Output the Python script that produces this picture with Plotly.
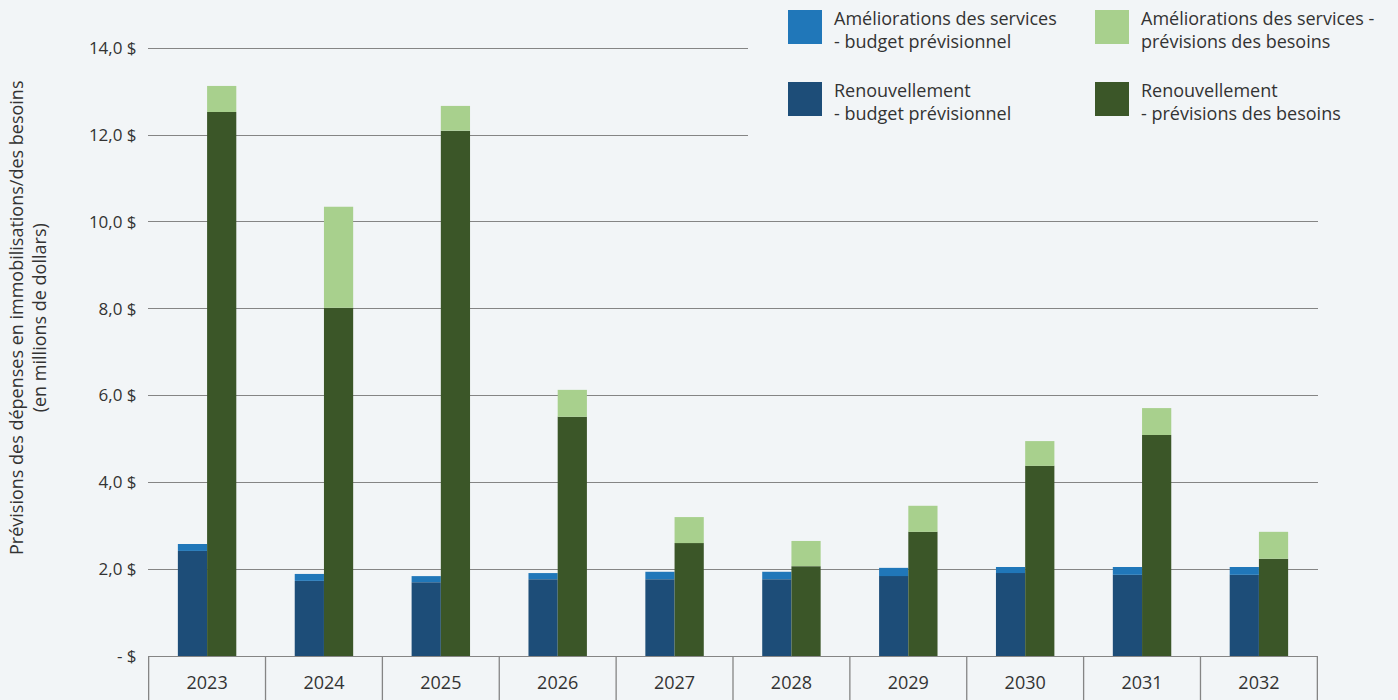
import plotly.graph_objects as go

years = ["2023", "2024", "2025", "2026", "2027", "2028", "2029", "2030", "2031", "2032"]
renouv_budget = [2.42, 1.73, 1.70, 1.77, 1.77, 1.77, 1.84, 1.91, 1.87, 1.87]
amelio_budget = [0.16, 0.16, 0.14, 0.14, 0.17, 0.17, 0.19, 0.14, 0.18, 0.18]
renouv_needs = [12.53, 8.02, 12.10, 5.51, 2.60, 2.07, 2.86, 4.38, 5.09, 2.24]
amelio_needs = [0.60, 2.33, 0.57, 0.62, 0.60, 0.58, 0.60, 0.57, 0.62, 0.62]
y_ticks = [0, 2, 4, 6, 8, 10, 12, 14]
y_ticktext = ["- $", "2,0 $", "4,0 $", "6,0 $", "8,0 $", "10,0 $", "12,0 $", "14,0 $"]

names = {
    "ab": "Améliorations des services<br>- budget prévisionnel",
    "an": "Améliorations des services -<br>prévisions des besoins",
    "rb": "Renouvellement<br>- budget prévisionnel",
    "rn": "Renouvellement<br>- prévisions des besoins",
}
colors = {"ab": "#2077b9", "an": "#a8d08d", "rb": "#1d4d78", "rn": "#3b5628"}

BG = "#f2f5f7"
TXT = "#333333"
GRID = "#858585"
FONT = "Open Sans"

W, H = 1398, 700
L, R, T, B = 148, 80, 46, 44
PW, PH = W - L - R, H - T - B


def px(x):
    return (x - L) / PW


def py(y):
    return (H - B - y) / PH


fig = go.Figure()
fig.add_trace(go.Bar(x=years, y=renouv_budget, name=names["rb"], marker_color=colors["rb"],
                     offsetgroup="budget", marker_line_width=0, showlegend=False))
fig.add_trace(go.Bar(x=years, y=amelio_budget, base=renouv_budget, name=names["ab"],
                     marker_color=colors["ab"], offsetgroup="budget", marker_line_width=0,
                     showlegend=False))
fig.add_trace(go.Bar(x=years, y=renouv_needs, name=names["rn"], marker_color=colors["rn"],
                     offsetgroup="needs", marker_line_width=0, showlegend=False))
fig.add_trace(go.Bar(x=years, y=amelio_needs, base=renouv_needs, name=names["an"],
                     marker_color=colors["an"], offsetgroup="needs", marker_line_width=0,
                     showlegend=False))

shapes = []
# category box separators below axis
for i in range(len(years) + 1):
    shapes.append(dict(type="line", xref="x", yref="paper", x0=i - 0.5, x1=i - 0.5,
                       y0=0, y1=py(H + 5), line=dict(color=GRID, width=1.3), layer="above"))
# background patch behind legend (hides gridlines)
shapes.append(dict(type="rect", xref="paper", yref="paper", x0=px(748), x1=px(W + 5),
                   y0=py(145), y1=py(-5), fillcolor=BG, line=dict(width=0), layer="above"))

annotations = []
legend_items = [("ab", 788, 10), ("an", 1095, 10), ("rb", 788, 82), ("rn", 1095, 82)]
for key, x0, y0 in legend_items:
    shapes.append(dict(type="rect", xref="paper", yref="paper", x0=px(x0), x1=px(x0 + 34),
                       y0=py(y0 + 34), y1=py(y0), fillcolor=colors[key], line=dict(width=0),
                       layer="above"))
    annotations.append(dict(text=names[key], xref="paper", yref="paper", x=px(x0 + 44),
                            y=py(y0 - 6), xanchor="left", yanchor="top", align="left",
                            showarrow=False, font=dict(family=FONT, size=18, color=TXT)))

annotations.append(dict(text="Prévisions des dépenses en immobilisations/des besoins<br>(en millions de dollars)",
                        xref="paper", yref="paper", x=px(27), y=py(318), textangle=-90,
                        xanchor="center", yanchor="middle", showarrow=False,
                        font=dict(family=FONT, size=18, color=TXT)))

fig.update_layout(
    width=W, height=H,
    margin=dict(l=L, r=R, t=T, b=B, pad=0, autoexpand=False),
    paper_bgcolor=BG, plot_bgcolor=BG,
    barmode="group", bargap=0.5, bargroupgap=0,
    font=dict(family=FONT, color=TXT),
    shapes=shapes, annotations=annotations,
    showlegend=False,
    xaxis=dict(showline=True, linecolor=GRID, linewidth=1.3, showgrid=False, automargin=False,
               ticks="outside", ticklen=10, tickcolor="rgba(0,0,0,0)",
               tickfont=dict(family=FONT, size=18, color=TXT), fixedrange=True),
    yaxis=dict(range=[0, 14.05], tickvals=y_ticks, ticktext=y_ticktext, showgrid=True,
               gridcolor=GRID, gridwidth=1, zeroline=False, showline=False, automargin=False,
               ticks="outside", ticklen=7, tickcolor="rgba(0,0,0,0)",
               tickfont=dict(family=FONT, size=17, color=TXT), fixedrange=True),
)

fig.write_html("out.html", config={"displayModeBar": False},
               post_script="document.body.style.margin='0';document.body.style.background='" + BG + "';")
